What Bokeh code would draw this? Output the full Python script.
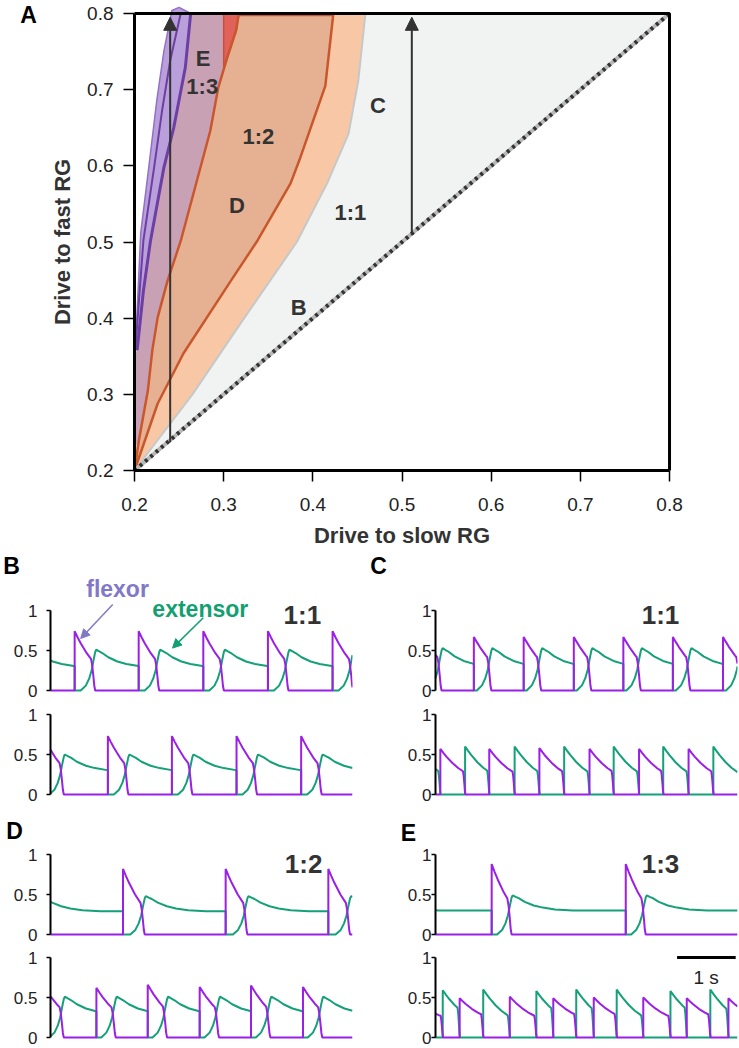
import numpy as np
from bokeh.plotting import figure
from bokeh.models import Range1d, FixedTicker, Label, Arrow, NormalHead, CustomJSTickFormatter
from bokeh.layouts import column, row
from bokeh.embed import file_html
from bokeh.resources import INLINE

FONT = "Liberation Sans"
TXT = "#333333"
FLEX_C = "#9b1fe6"
EXT_C = "#14a078"
FLEX_LABEL_C = "#8278c8"
EXT_LABEL_C = "#12a070"

# ---------------- Panel A data (region boundaries) ----------------
A_TICKS = [0.2, 0.3, 0.4, 0.5, 0.6, 0.7, 0.8]
DIAG_X = [0.2, 0.8]
DIAG_Y = [0.2, 0.8]
PEACH_EDGE_X = [0.2, 0.265, 0.323, 0.382, 0.416, 0.440, 0.451, 0.459]
PEACH_EDGE_Y = [0.2, 0.300, 0.400, 0.500, 0.577, 0.642, 0.712, 0.800]
R12_LEFT_X = [0.2, 0.205, 0.215, 0.220, 0.226, 0.237, 0.252, 0.271, 0.285, 0.294, 0.304, 0.314, 0.317]
R12_LEFT_Y = [0.2, 0.240, 0.305, 0.358, 0.401, 0.449, 0.502, 0.585, 0.646, 0.703, 0.742, 0.778, 0.800]
R12_RIGHT_X = [0.423, 0.414, 0.386, 0.375, 0.338, 0.308, 0.255, 0.226, 0.2]
R12_RIGHT_Y = [0.800, 0.705, 0.611, 0.577, 0.502, 0.449, 0.354, 0.288, 0.2]
R13_X = [0.2, 0.205, 0.215, 0.220, 0.226, 0.237, 0.252, 0.271, 0.285, 0.294, 0.300, 0.300,
         0.263, 0.257, 0.244, 0.233, 0.218, 0.210, 0.203, 0.2]
R13_Y = [0.23, 0.240, 0.305, 0.358, 0.401, 0.449, 0.502, 0.585, 0.646, 0.703, 0.729, 0.800,
         0.800, 0.729, 0.650, 0.598, 0.502, 0.436, 0.358, 0.35]
RED_X = [0.300, 0.304, 0.314, 0.317, 0.300]
RED_Y = [0.729, 0.742, 0.778, 0.800, 0.800]
LAV_OUT_X = [0.201, 0.207, 0.216, 0.225, 0.233, 0.242, 0.250]
LAV_OUT_Y = [0.360, 0.512, 0.598, 0.686, 0.751, 0.804, 0.808]
LAV_R_X = [0.263, 0.257, 0.244, 0.233, 0.218, 0.210, 0.203]
LAV_R_Y = [0.800, 0.729, 0.650, 0.598, 0.502, 0.436, 0.358]
LAV_IN_X = [0.201, 0.210, 0.222, 0.231, 0.240, 0.252]
LAV_IN_Y = [0.360, 0.502, 0.598, 0.673, 0.738, 0.801]
ARROW_X = [0.240, 0.511]
ARROW_Y0 = [0.237, 0.509]
ARROW_Y1 = [0.795, 0.795]
REG_TEXT = ["E", "1:3", "1:2", "D", "C", "1:1", "B"]
REG_X = [0.277, 0.276, 0.339, 0.315, 0.473, 0.442, 0.384]
REG_Y = [0.741, 0.704, 0.638, 0.548, 0.679, 0.539, 0.414]

# ---------------- Traces: burst timings and amplitudes ----------------
# shape templates
DECL_DT = [0.0, 0.05, 0.10, 0.20, 0.30, 0.40, 0.50]
DECL_FR = [1.0, 0.84, 0.69, 0.43, 0.22, 0.06, 0.0]
DECL_FLOOR = 0.26
DROP_DT = [0.0, 0.02, 0.04, 0.055, 0.07]
DROP_FR = [1.0, 0.80, 0.45, 0.15, 0.0]
RISE_DT = [-0.24, -0.155, -0.10, -0.06, -0.028, 0.0, 0.017]
RISE_FR = [0.0, 0.12, 0.29, 0.49, 0.74, 0.94, 1.0]
DECAY_DT = [0.0, 0.05, 0.10, 0.20, 0.35, 0.50, 0.70, 1.00]
DECAY_FR = [1.0, 0.90, 0.81, 0.57, 0.33, 0.19, 0.07, 0.0]

B1_FLEX_ON = [-0.67, 0.40, 1.46, 2.53, 3.60, 4.67]
B1_FLEX_PEAK = [0.74, 0.74, 0.74, 0.74, 0.74, 0.74]
B1_FLEX_DUR = 0.34
B1_EXT_PEAK = 0.51
B1_EXT_LEVEL = 0.29

B2_FLEX_ON = [-0.12, 0.95, 2.01, 3.08, 4.15]
B2_FLEX_PEAK = [0.73, 0.73, 0.73, 0.73, 0.73]
B2_FLEX_DUR = 0.34
B2_EXT_PEAK = 0.50
B2_EXT_LEVEL = 0.29

C1_FLEX_ON = [-0.19, 0.635, 1.46, 2.29, 3.11, 3.93, 4.76]
C1_FLEX_PEAK = [0.67, 0.67, 0.67, 0.67, 0.67, 0.67, 0.67]
C1_FLEX_DUR = 0.29
C1_EXT_PEAK = 0.53
C1_EXT_LEVEL = 0.29

C2_FLEX_ON = [-0.74, 0.08, 0.89, 1.72, 2.55, 3.37, 4.19]
C2_FLEX_PEAK = [0.57, 0.57, 0.57, 0.58, 0.57, 0.57, 0.57]
C2_EXT_ON = [-0.33, 0.49, 1.31, 2.13, 2.95, 3.77, 4.60]
C2_EXT_PEAK = [0.60, 0.60, 0.60, 0.60, 0.60, 0.60, 0.60]

D1_FLEX_ON = [-0.55, 1.20, 2.90, 4.60]
D1_FLEX_PEAK = [0.82, 0.82, 0.82, 0.82]
D1_FLEX_DUR = 0.36
D1_EXT_PEAK = 0.48
D1_EXT_LEVEL = 0.29

D2_FLEX_ON = [-0.10, 0.76, 1.61, 2.47, 3.32, 4.18]
D2_FLEX_PEAK = [0.63, 0.62, 0.66, 0.63, 0.65, 0.63]
D2_FLEX_DUR = 0.32
D2_EXT_PEAK = 0.51
D2_EXT_LEVEL = 0.29

E1_FLEX_ON = [-1.30, 0.93, 3.15]
E1_FLEX_PEAK = [0.88, 0.88, 0.88]
E1_FLEX_DUR = 0.33
E1_EXT_PEAK = 0.49
E1_EXT_LEVEL = 0.30

E2_FLEX_ON = [-0.33, 0.40, 1.23, 1.95, 2.62, 3.44, 4.16, 4.85]
E2_FLEX_PEAK = [0.49, 0.49, 0.51, 0.49, 0.50, 0.50, 0.49, 0.49]
E2_EXT_ON = [-0.75, 0.12, 0.79, 1.67, 2.33, 3.00, 3.89, 4.55]
E2_EXT_PEAK = [0.60, 0.59, 0.60, 0.58, 0.60, 0.60, 0.58, 0.60]

T_END = 5.0


def burst(on, pk, end, drop_len):
    xs, ys = [on, on], [0.0, pk]
    dstart = end - drop_len
    span = dstart - on
    for dt, fr in zip(DECL_DT, DECL_FR):
        if 0 < dt < span:
            xs.append(on + dt)
            ys.append(DECL_FLOOR + (pk - DECL_FLOOR) * fr)
    v = DECL_FLOOR + (pk - DECL_FLOOR) * float(np.interp(span, DECL_DT, DECL_FR))
    for dt, fr in zip(DROP_DT, DROP_FR):
        xs.append(dstart + dt * drop_len / DROP_DT[-1])
        ys.append(v * fr)
    return xs, ys


def clip(xs, ys, t0=0.0, t1=T_END):
    ox, oy = [], []
    for i in range(len(xs)):
        x, y = xs[i], ys[i]
        if i > 0:
            xp, yp = xs[i - 1], ys[i - 1]
            for b in (t0, t1):
                if (xp - b) * (x - b) < 0:
                    ox.append(b)
                    oy.append(yp + (y - yp) * (b - xp) / (x - xp))
        if t0 <= x <= t1:
            ox.append(x)
            oy.append(y)
    return ox, oy


def flexor_mode1(ons, pks, dur):
    xs, ys = [], []
    for on, pk in zip(ons, pks):
        bx, by = burst(on, pk, on + dur, 0.07)
        xs += bx
        ys += by
    xs.append(T_END + 1)
    ys.append(0.0)
    return clip(xs, ys)


def extensor_mode1(ons, dur, pk, lvl):
    xs, ys = [], []
    for i, on in enumerate(ons):
        end = on + dur
        xs.append(on)
        ys.append(0.0)
        for dt, fr in zip(RISE_DT, RISE_FR):
            xs.append(end + dt)
            ys.append(pk * fr)
        tp = end + RISE_DT[-1]
        nxt = ons[i + 1] if i + 1 < len(ons) else T_END + 1
        for dt, fr in zip(DECAY_DT, DECAY_FR):
            if 0 < dt and tp + dt < nxt:
                xs.append(tp + dt)
                ys.append(lvl + (pk - lvl) * fr)
        xs.append(nxt)
        ys.append(lvl + (pk - lvl) * float(np.interp(nxt - tp, DECAY_DT, DECAY_FR)))
        if i + 1 < len(ons):
            xs.append(nxt)
            ys.append(0.0)
    return clip(xs, ys)


def alternating(ons, pks, other_ons):
    xs, ys = [], []
    for on, pk in zip(ons, pks):
        later = [o for o in other_ons if o > on]
        end = later[0] + 0.005 if later else T_END + 1
        bx, by = burst(on, pk, end, 0.04)
        xs += bx
        ys += by
    xs.append(T_END + 1)
    ys.append(0.0)
    return clip(xs, ys)


def lab(p, x, y, text, size, color=TXT, style="bold"):
    p.add_layout(Label(x=x, y=y, text=text, text_font=FONT, text_font_size=size,
                       text_font_style=style, text_color=color, text_align="center",
                       text_baseline="middle"))


# ---------------- Panel A ----------------
PX_A = 891.7   # pixels per unit, x
PY_A = 761.7   # pixels per unit, y
A_W, A_H = 739, 546
xa0 = 0.2 - 134 / PX_A
xa1 = 0.2 + (A_W - 134) / PX_A
ya1 = 0.8 + 13 / PY_A
ya0 = 0.2 - (A_H - 470) / PY_A
pa = figure(width=A_W, height=A_H, x_range=Range1d(xa0, xa1), y_range=Range1d(ya0, ya1),
            output_backend="svg", toolbar_location=None,
            min_border_left=0, min_border_right=0, min_border_top=0, min_border_bottom=0)
pa.grid.visible = False
pa.outline_line_color = None
for ax in (pa.xaxis[0], pa.yaxis[0]):
    ax.ticker = FixedTicker(ticks=A_TICKS)
    ax.bounds = (0.2, 0.8)
    ax.fixed_location = 0.2
    ax.axis_line_width = 3
    ax.axis_line_color = "black"
    ax.major_tick_out = 11
    ax.major_tick_in = 0
    ax.major_tick_line_width = 1.5
    ax.minor_tick_out = 0
    ax.minor_tick_in = 0
    ax.major_label_text_font = FONT
    ax.major_label_text_font_size = "19px"
    ax.major_label_text_color = "#222222"
    ax.axis_label_text_font = FONT
    ax.axis_label_text_font_size = "22px"
    ax.axis_label_text_font_style = "bold"
    ax.axis_label_text_color = TXT
pa.xaxis.axis_label = "Drive to slow RG"
pa.yaxis.axis_label = "Drive to fast RG"
pa.xaxis.major_label_standoff = 16
pa.xaxis.major_label_text_align = "left"
pa.xaxis.axis_label_standoff = 9
pa.yaxis.major_label_standoff = 10
pa.yaxis.axis_label_standoff = 9

pa.patch([0.2, 0.8, 0.2], [0.2, 0.8, 0.8], fill_color="#f1f3f3", line_color=None)
pa.patch(PEACH_EDGE_X + [0.2], PEACH_EDGE_Y + [0.8], fill_color="#f8c8a6", line_color=None)
pa.line(PEACH_EDGE_X, PEACH_EDGE_Y, line_color="#c5c8c9", line_width=2)
pa.patch(R12_LEFT_X + R12_RIGHT_X, R12_LEFT_Y + R12_RIGHT_Y, fill_color="#e5b192", line_color=None)
pa.patch(R13_X, R13_Y, fill_color="#c9a1b5", line_color=None)
pa.patch(RED_X, RED_Y, fill_color="#e0625a", line_color="#c8503a", line_width=1.5)
pa.line(R12_LEFT_X, R12_LEFT_Y, line_color="#c9572b", line_width=2.5)
pa.line(R12_RIGHT_X, R12_RIGHT_Y, line_color="#c9572b", line_width=2.5)
pa.line([R12_LEFT_X[-1], R12_RIGHT_X[0]], [0.798, 0.798], line_color="#c9572b", line_width=2.5)
# area with no rhythm (upper left corner) stays white
pa.patch([0.2] + LAV_OUT_X + [0.2], [0.36] + LAV_OUT_Y + [0.8], fill_color="white", line_color=None)
pa.patch(LAV_OUT_X + LAV_R_X, LAV_OUT_Y + LAV_R_Y, fill_color="#b9a0db", line_color="#9470c8", line_width=1.5)
pa.line(LAV_IN_X, LAV_IN_Y, line_color="#6e3fa3", line_width=2)
pa.line(LAV_R_X, LAV_R_Y, line_color="#6e3fa3", line_width=3)
pa.line(DIAG_X, DIAG_Y, line_color="#b8b8b8", line_width=4)
pa.line(DIAG_X, DIAG_Y, line_color="#333333", line_width=4, line_dash="3 4")
# frame box (top and right edges; left and bottom are the axes)
pa.line([0.2, 0.8, 0.8], [0.8, 0.8, 0.2], line_color="black", line_width=3)
for ax_x, y0, y1 in zip(ARROW_X, ARROW_Y0, ARROW_Y1):
    pa.add_layout(Arrow(end=NormalHead(size=13, fill_color="#333333", line_color="#333333"),
                        x_start=ax_x, y_start=y0, x_end=ax_x, y_end=y1,
                        line_color="#333333", line_width=2))
for t, x, y in zip(REG_TEXT, REG_X, REG_Y):
    lab(pa, x, y, t, "22px")
lab(pa, 0.2 + (28 - 134) / PX_A, 0.8 - (15 - 13) / PY_A, "A", "23px", "black")


# ---------------- Trace panels ----------------
PX_T = 60.4  # pixels per second
PY_T = 80.0  # pixels per unit activity
LEFT_W, RIGHT_W = 365, 374


def trace_fig(side, top_px, bottom_px, zero_px):
    if side == "left":
        w, br, x0, stand = LEFT_W, 13, -50 / PX_T, 9
    else:
        w, br, x0, stand = RIGHT_W, 2, -70 / PX_T, 0
    y_top = (zero_px - top_px) / PY_T
    y_bot = -(bottom_px - zero_px) / PY_T
    p = figure(width=w, height=bottom_px - top_px, x_range=Range1d(x0, T_END),
               y_range=Range1d(y_bot, y_top),
               output_backend="svg", toolbar_location=None, x_axis_location=None,
               min_border_left=0, min_border_right=br, min_border_top=0, min_border_bottom=0)
    p.grid.visible = False
    p.outline_line_color = None
    ax = p.yaxis[0]
    ax.fixed_location = 0
    ax.ticker = FixedTicker(ticks=[0, 0.5, 1])
    ax.bounds = (0, 1)
    ax.formatter = CustomJSTickFormatter(code="return tick.toString();")
    ax.axis_line_width = 2
    ax.axis_line_color = "black"
    ax.major_tick_out = 4
    ax.major_tick_in = 0
    ax.major_tick_line_width = 1.5
    ax.minor_tick_out = 0
    ax.minor_tick_in = 0
    ax.major_label_standoff = stand
    ax.major_label_text_font = FONT
    ax.major_label_text_font_size = "17px"
    ax.major_label_text_color = "#222222"
    return p


def draw(p, flex, ext):
    p.line(ext[0], ext[1], line_color=EXT_C, line_width=2)
    p.line(flex[0], flex[1], line_color=FLEX_C, line_width=2)


# Row 1: B top / C top  (page rows 546..701, zero at 690)
b1 = trace_fig("left", 546, 701, 690)
draw(b1, flexor_mode1(B1_FLEX_ON, B1_FLEX_PEAK, B1_FLEX_DUR),
     extensor_mode1(B1_FLEX_ON, B1_FLEX_DUR, B1_EXT_PEAK, B1_EXT_LEVEL))
lab(b1, -0.646, 1.5625, "B", "23px", "black")
lab(b1, 1.11, 1.275, "flexor", "23px", FLEX_LABEL_C)
lab(b1, 2.48, 1.025, "extensor", "23px", EXT_LABEL_C)
lab(b1, 4.17, 0.94, "1:1", "26px")
b1.add_layout(Arrow(end=NormalHead(size=9, fill_color=FLEX_LABEL_C, line_color=FLEX_LABEL_C),
                    x_start=1.03, y_start=1.075, x_end=0.50, y_end=0.65,
                    line_color=FLEX_LABEL_C, line_width=1.5))
b1.add_layout(Arrow(end=NormalHead(size=9, fill_color=EXT_LABEL_C, line_color=EXT_LABEL_C),
                    x_start=2.53, y_start=0.91, x_end=2.02, y_end=0.53,
                    line_color=EXT_LABEL_C, line_width=1.5))

c1 = trace_fig("right", 546, 701, 690)
draw(c1, flexor_mode1(C1_FLEX_ON, C1_FLEX_PEAK, C1_FLEX_DUR),
     extensor_mode1(C1_FLEX_ON, C1_FLEX_DUR, C1_EXT_PEAK, C1_EXT_LEVEL))
lab(c1, -0.944, 1.5625, "C", "23px", "black")
lab(c1, 3.725, 0.94, "1:1", "26px")

# Row 2: B bottom / C bottom  (page rows 701..803, zero at 794)
b2 = trace_fig("left", 701, 803, 794)
draw(b2, flexor_mode1(B2_FLEX_ON, B2_FLEX_PEAK, B2_FLEX_DUR),
     extensor_mode1(B2_FLEX_ON, B2_FLEX_DUR, B2_EXT_PEAK, B2_EXT_LEVEL))

c2 = trace_fig("right", 701, 803, 794)
draw(c2, alternating(C2_FLEX_ON, C2_FLEX_PEAK, C2_EXT_ON),
     alternating(C2_EXT_ON, C2_EXT_PEAK, C2_FLEX_ON))

# Row 3: D top / E top  (page rows 803..943, zero at 934)
d1 = trace_fig("left", 803, 943, 934)
draw(d1, flexor_mode1(D1_FLEX_ON, D1_FLEX_PEAK, D1_FLEX_DUR),
     extensor_mode1(D1_FLEX_ON, D1_FLEX_DUR, D1_EXT_PEAK, D1_EXT_LEVEL))
lab(d1, -0.596, 1.3, "D", "23px", "black")
lab(d1, 4.19, 0.8875, "1:2", "26px")

e1 = trace_fig("right", 803, 943, 934)
draw(e1, flexor_mode1(E1_FLEX_ON, E1_FLEX_PEAK, E1_FLEX_DUR),
     extensor_mode1(E1_FLEX_ON, E1_FLEX_DUR, E1_EXT_PEAK, E1_EXT_LEVEL))
lab(e1, -0.447, 1.275, "E", "23px", "black")
lab(e1, 3.725, 0.8875, "1:3", "26px")

# Row 4: D bottom / E bottom  (page rows 943..1046, zero at 1037)
d2 = trace_fig("left", 943, 1046, 1037)
draw(d2, flexor_mode1(D2_FLEX_ON, D2_FLEX_PEAK, D2_FLEX_DUR),
     extensor_mode1(D2_FLEX_ON, D2_FLEX_DUR, D2_EXT_PEAK, D2_EXT_LEVEL))

e2 = trace_fig("right", 943, 1046, 1037)
draw(e2, alternating(E2_FLEX_ON, E2_FLEX_PEAK, E2_EXT_ON),
     alternating(E2_EXT_ON, E2_EXT_PEAK, E2_FLEX_ON))
e2.line([4.0, 4.97], [1.0, 1.0], line_color="black", line_width=3)
lab(e2, 4.48, 0.75, "1 s", "19px", "#222222", "normal")

layout = column(pa, row(b1, c1), row(b2, c2), row(d1, e1), row(d2, e2))
open("out.html", "w").write(file_html(layout, INLINE))
